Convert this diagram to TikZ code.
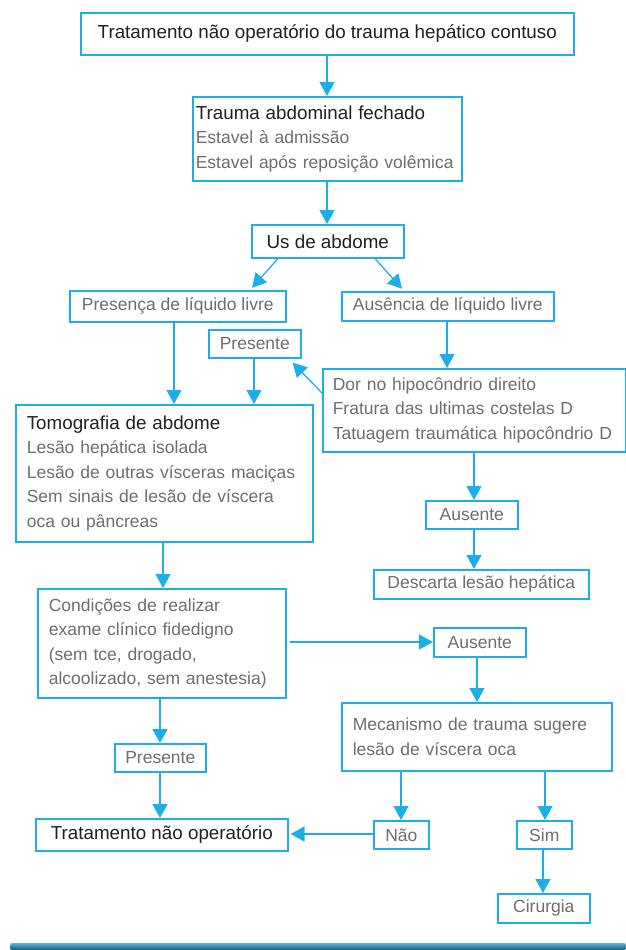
\documentclass[tikz,border=0pt]{standalone}
\usepackage{fontspec}
\setmainfont{Liberation Sans}
\usetikzlibrary{arrows.meta,calc}
\definecolor{cy}{HTML}{1CAEE8}
\definecolor{dk}{HTML}{231F20}
\definecolor{gr}{HTML}{6D6E71}
\definecolor{barTop}{HTML}{5BB8D6}
\definecolor{barBot}{HTML}{075A7A}
\newcommand\fsz{\fontsize{17.5}{24.5}\selectfont}
\newcommand\fszb{\fontsize{18.8}{24.5}\selectfont}
\newcommand\hd[1]{{\fszb\color{dk}#1}}
\begin{document}
\begin{tikzpicture}[x=1pt,y=-1pt,
  box/.style={draw=cy,line width=1.6pt,fill=white,inner sep=0pt,anchor=north west,font=\fsz,text=gr},
  dbox/.style={box,font=\fszb,text=dk},
  mbox/.style={box,align=left,inner ysep=0pt},
  arr/.style={draw=cy,line width=1.3pt,-{Triangle[length=14pt,width=15pt]}}]
\useasboundingbox (0,0) rectangle (626,950);
% boxes
\node[dbox,minimum width=493,minimum height=42] (t1) at (80,12) {Tratamento não operatório do trauma hepático contuso};
\node[mbox,inner xsep=3pt,text width=263pt,minimum height=84] (t2) at (192,96) {\hd{Trauma abdominal fechado}\\Estavel à admissão\\Estavel após reposição volêmica};
\node[dbox,minimum width=152,minimum height=33] (us) at (251,224) {Us de abdome};
\node[box,minimum width=216,minimum height=31] (pres) at (69,290) {Presença de líquido livre};
\node[box,minimum width=212,minimum height=29] (aus) at (341,291) {Ausência de líquido livre};
\node[box,minimum width=92,minimum height=28] (presA) at (208,329) {Presente};
\node[mbox,inner xsep=10pt,text width=283pt,minimum height=83] (dor) at (322,368) {Dor no hipocôndrio direito\\Fratura das ultimas costelas D\\Tatuagem traumática hipocôndrio D};
\node[mbox,inner xsep=11pt,text width=275pt,minimum height=137] (tomo) at (15,404) {\hd{Tomografia de abdome}\\Lesão hepática isolada\\Lesão de outras vísceras maciças\\Sem sinais de lesão de víscera\\oca ou pâncreas};
\node[box,minimum width=92,minimum height=28] (ausR) at (425,500) {Ausente};
\node[box,minimum width=215,minimum height=29] (desc) at (373,569) {Descarta lesão hepática};
\node[mbox,inner xsep=11pt,text width=226pt,minimum height=109] (cond) at (37,588) {Condições de realizar\\exame clínico fidedigno\\(sem tce, drogado,\\alcoolizado, sem anestesia)};
\node[box,minimum width=92,minimum height=29] (ausM) at (433,627) {Ausente};
\node[mbox,inner xsep=11pt,text width=248pt,minimum height=68] (mec) at (341,702) {Mecanismo de trauma sugere\\lesão de víscera oca};
\node[box,minimum width=91,minimum height=28] (presB) at (114,743) {Presente};
\node[dbox,minimum width=252,minimum height=32] (trat) at (35,818) {Tratamento não operatório};
\node[box,minimum width=55,minimum height=28] (nao) at (373,820) {Não};
\node[box,minimum width=55,minimum height=28] (sim) at (516,820) {Sim};
\node[box,minimum width=92,minimum height=29] (cir) at (497,893) {Cirurgia};
% column / row helpers
\coordinate (x327) at (327,0);
\coordinate (x278) at (278,0);
\coordinate (x250) at (250,0);
\coordinate (x375) at (375,0);
\coordinate (x404) at (404,0);
\coordinate (x174) at (174,0);
\coordinate (x254) at (254,0);
\coordinate (x447) at (447,0);
\coordinate (x474) at (474,0);
\coordinate (x163) at (163,0);
\coordinate (x477) at (477,0);
\coordinate (x160) at (160,0);
\coordinate (x401) at (401,0);
\coordinate (x545) at (545,0);
\coordinate (x543) at (543,0);
\coordinate (y642) at (0,642);
\coordinate (y834) at (0,834);
% connectors
\draw[arr] (t1.south -| x327) -- (t2.north -| x327);
\draw[arr] (t2.south -| x327) -- (us.north -| x327);
\draw[arr,shorten >=3pt] (us.south -| x278) -- (pres.north -| x250);
\draw[arr,shorten >=3pt] (us.south -| x375) -- (aus.north -| x404);
\draw[arr] (pres.south -| x174) -- (tomo.north -| x174);
\draw[arr] (presA.south -| x254) -- (tomo.north -| x254);
\draw[arr] (aus.south -| x447) -- (dor.north -| x447);
\draw[arr] ([yshift=-25pt]dor.north west) -- ([xshift=-9pt,yshift=-4pt]presA.south east);
\draw[arr] (dor.south -| x474) -- (ausR.north -| x474);
\draw[arr] (ausR.south -| x474) -- (desc.north -| x474);
\draw[arr] (tomo.south -| x163) -- (cond.north -| x163);
\draw[arr,shorten <=3pt] (cond.east |- y642) -- (ausM.west |- y642);
\draw[arr] (ausM.south -| x477) -- (mec.north -| x477);
\draw[arr] (cond.south -| x160) -- (presB.north -| x160);
\draw[arr] (presB.south -| x160) -- (trat.north -| x160);
\draw[arr] (mec.south -| x401) -- (nao.north -| x401);
\draw[arr] (mec.south -| x545) -- (sim.north -| x545);
\draw[arr,shorten >=2pt] (nao.west |- y834) -- (trat.east |- y834);
\draw[arr] (sim.south -| x543) -- (cir.north -| x543);
% bottom bar
\shade[top color=barTop,bottom color=barBot,rounded corners=2pt] (10,943) rectangle (626,950);
\end{tikzpicture}
\end{document}
